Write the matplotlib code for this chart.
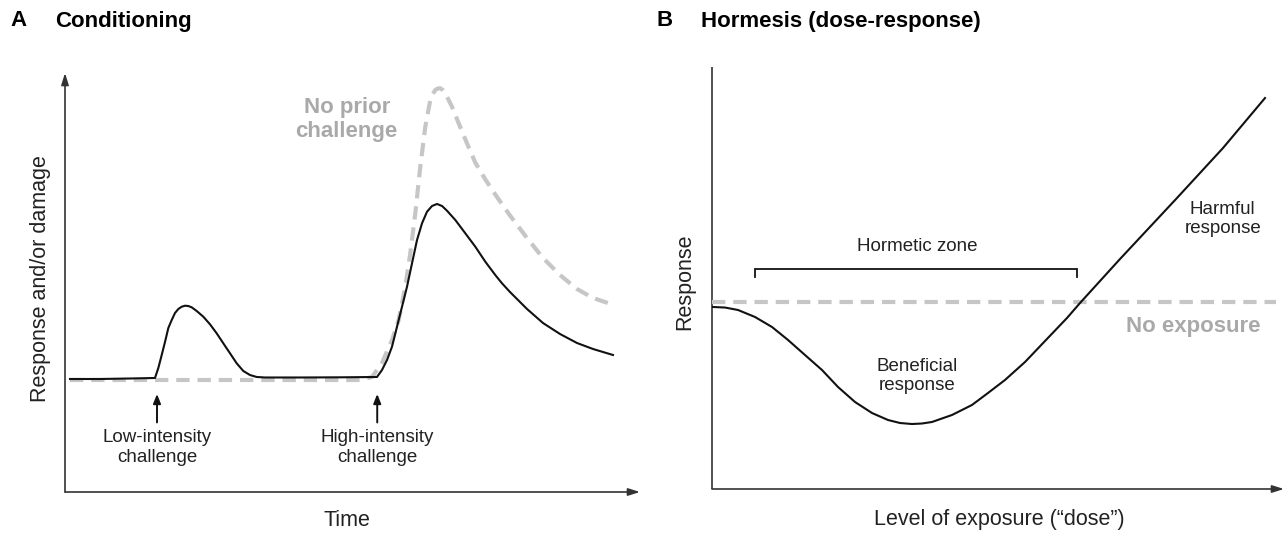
import matplotlib
matplotlib.use("Agg")
import matplotlib.pyplot as plt

plt.rcParams['font.family'] = ['Liberation Sans', 'DejaVu Sans']

# ---------------- Panel A data (time 0-100, response 0-100) ----------------
a_time_conditioned = [0.87, 6.09, 11.30, 15.65, 16.23, 16.82, 17.39, 17.97, 18.56, 19.13, 19.71,
                      20.30, 20.87, 21.44, 22.03, 22.90, 24.05, 25.22, 26.38, 27.53, 28.70,
                      29.86, 31.01, 32.17, 33.34, 34.78, 40.87, 47.83, 54.26, 55.13, 56.00,
                      56.87, 57.74, 58.61, 59.48, 60.35, 61.22, 62.09, 62.96, 63.83, 64.70,
                      65.57, 66.43, 67.88, 69.62, 71.36, 73.10, 74.83, 76.00, 77.39, 80.35,
                      83.13, 86.09, 89.04, 91.83, 95.30]
a_resp_conditioned = [26.97, 26.97, 27.09, 27.21, 29.59, 32.70, 35.80, 39.14, 41.05, 42.72, 43.68,
                      44.22, 44.46, 44.39, 44.08, 43.20, 41.84, 40.02, 37.87, 35.49, 33.10,
                      30.71, 28.88, 27.92, 27.45, 27.33, 27.33, 27.37, 27.45, 29.12, 31.50,
                      34.68, 39.45, 44.22, 49.00, 54.58, 60.14, 64.13, 66.90, 68.26, 68.74,
                      68.26, 67.14, 64.92, 61.74, 58.54, 54.96, 51.79, 49.81, 47.73, 43.68,
                      40.33, 37.71, 35.56, 34.13, 32.70]

a_time_naive = [0.87, 51.30, 53.39, 55.13, 56.87, 58.03, 59.18, 60.05, 60.92, 61.79, 62.66,
                63.53, 63.97, 64.40, 64.83, 65.27, 65.70, 66.14, 67.30, 68.47, 69.91, 71.36,
                73.10, 74.83, 76.00, 77.39, 80.35, 83.13, 86.09, 89.04, 91.83, 94.43]
a_resp_naive = [26.73, 26.73, 27.45, 30.79, 36.28, 41.05, 49.00, 56.97, 66.51, 77.64, 87.18,
                93.56, 94.99, 95.94, 96.30, 96.35, 95.94, 95.15, 91.96, 88.00, 83.22, 78.60,
                74.60, 71.00, 68.70, 66.00, 60.62, 55.85, 51.79, 48.45, 46.30, 45.11]

a_challenge_times = [16.0, 54.3]
a_challenge_labels = ["Low-intensity\nchallenge", "High-intensity\nchallenge"]

# ---------------- Panel B data (dose 0-100, response 0-100) ----------------
b_dose = [0.17, 2.27, 4.55, 7.52, 10.49, 13.29, 16.26, 19.23, 22.03, 25.0, 27.97, 30.77, 32.87,
          34.97, 36.71, 38.46, 41.96, 45.45, 48.25, 51.22, 54.72, 58.22, 62.06, 64.34,
          71.33, 81.29, 89.34, 96.68]
b_resp = [43.13, 43.0, 42.42, 40.76, 38.39, 35.31, 31.75, 28.20, 24.17, 20.62, 18.01, 16.35, 15.64,
          15.40, 15.52, 15.88, 17.54, 19.91, 22.75, 25.83, 30.09, 35.07, 40.52, 44.08,
          54.50, 68.96, 80.81, 92.65]
b_no_exposure_level = 44.3
b_no_exposure_range = [0.0, 98.6]
b_hormetic_zone = [7.52, 63.8]

BLACK = '#111111'
AXC = '#333333'
GRAY_LINE = '#c6c6c6'
GRAY_TEXT = '#a9a9a9'
DASH = (0, (3.2, 1.9))

W, H = 1286, 534
fig = plt.figure(figsize=(W / 100, H / 100), dpi=100)


def px_axes(left, top, right, bottom):
    return fig.add_axes([left / W, 1 - bottom / H, (right - left) / W, (bottom - top) / H])


def style_axes(ax, yarrow):
    ax.set_xlim(0, 100)
    ax.set_ylim(0, 100)
    for s in ax.spines.values():
        s.set_visible(False)
    ax.set_xticks([])
    ax.set_yticks([])
    ax.patch.set_alpha(0)
    ap = dict(arrowstyle='-|>,head_length=0.7,head_width=0.22', color=AXC, lw=1.2,
              shrinkA=0, shrinkB=0)
    ax.annotate('', xy=(1, 0), xytext=(0, 0), xycoords='axes fraction',
                textcoords='axes fraction', arrowprops=ap)
    if yarrow:
        ax.annotate('', xy=(0, 1), xytext=(0, 0), xycoords='axes fraction',
                    textcoords='axes fraction', arrowprops=ap)
    else:
        ax.plot([0, 0], [0, 1], transform=ax.transAxes, color=AXC, lw=1.2,
                clip_on=False, solid_capstyle='butt')


# ---------------- Panel A ----------------
axA = px_axes(65, 73, 640, 492)
style_axes(axA, True)
axA.plot(a_time_naive, a_resp_naive, color=GRAY_LINE, lw=3.0, linestyle=DASH,
         clip_on=False, zorder=2)
axA.plot(a_time_conditioned, a_resp_conditioned, color=BLACK, lw=1.5, clip_on=False,
         zorder=3, solid_joinstyle='round')
for t, lab in zip(a_challenge_times, a_challenge_labels):
    axA.annotate('', xy=(t, 23.4), xytext=(t, 16.6),
                 arrowprops=dict(arrowstyle='-|>,head_length=0.55,head_width=0.22',
                                 color=BLACK, lw=1.4, shrinkA=0, shrinkB=0))
    axA.text(t, 10.6, lab, ha='center', va='center', fontsize=13.5, color='#222222',
             linespacing=1.2)
axA.text(49.0, 88.9, "No prior\nchallenge", ha='center', va='center', fontsize=16,
         fontweight='bold', color=GRAY_TEXT, linespacing=1.15)
axA.text(0.49, -0.069, "Time", transform=axA.transAxes, ha='center', va='center',
         fontsize=15.5, color='#222222')
axA.text(-0.043, 0.51, "Response and/or damage", transform=axA.transAxes, ha='center',
         va='center', rotation=90, fontsize=15.5, color='#222222')

# ---------------- Panel B ----------------
axB = px_axes(712, 67, 1284, 489)
style_axes(axB, False)
axB.plot(b_no_exposure_range, [b_no_exposure_level] * 2, color=GRAY_LINE, lw=3.0,
         linestyle=DASH, clip_on=False, zorder=2)
axB.plot(b_dose, b_resp, color=BLACK, lw=1.5, clip_on=False, zorder=3,
         solid_joinstyle='round')
zx0, zx1 = b_hormetic_zone
axB.plot([zx0, zx0, zx1, zx1], [50.2, 52.1, 52.1, 50.2], color=BLACK, lw=1.3,
         solid_joinstyle='miter')
axB.text((zx0 + zx1) / 2 + 0.2, 57.4, "Hormetic zone", ha='center', va='center',
         fontsize=13.5, color='#222222')
axB.text(35.8, 26.8, "Beneficial\nresponse", ha='center', va='center', fontsize=13.5,
         color='#222222', linespacing=1.2)
axB.text(89.3, 64.0, "Harmful\nresponse", ha='center', va='center', fontsize=13.5,
         color='#222222', linespacing=1.2)
axB.text(84.1, 38.4, "No exposure", ha='center', va='center', fontsize=16,
         fontweight='bold', color=GRAY_TEXT)
axB.text(0.503, -0.073, "Level of exposure (\u201cdose\u201d)", transform=axB.transAxes,
         ha='center', va='center', fontsize=15.5, color='#222222')
axB.text(-0.047, 0.49, "Response", transform=axB.transAxes, ha='center', va='center',
         rotation=90, fontsize=15.5, color='#222222')

# ---------------- Titles ----------------
fig.text(10 / W, 1 - 21 / H, "A", fontsize=16, fontweight='bold', va='center', ha='left')
fig.text(55 / W, 1 - 21 / H, "Conditioning", fontsize=16, fontweight='bold', va='center',
         ha='left')
fig.text(656 / W, 1 - 21 / H, "B", fontsize=16, fontweight='bold', va='center', ha='left')
fig.text(701 / W, 1 - 21 / H, "Hormesis (dose-response)", fontsize=16, fontweight='bold',
         va='center', ha='left')

fig.savefig("out.png", dpi=100, facecolor='white')
